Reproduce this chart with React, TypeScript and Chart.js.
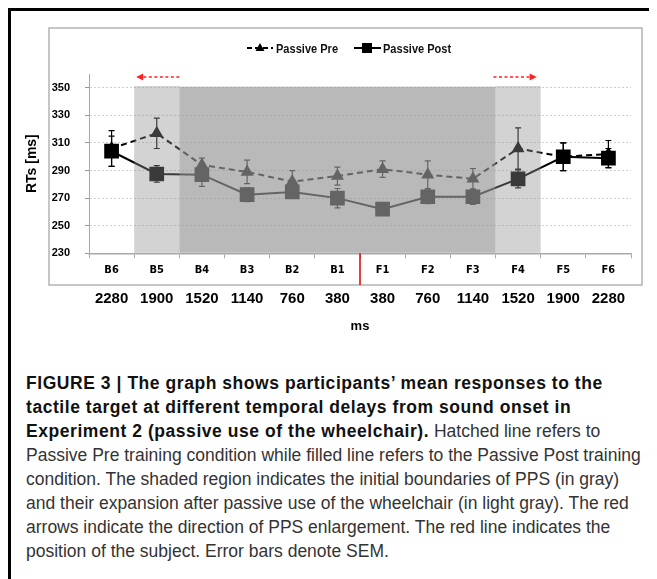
import React, { useEffect, useRef } from 'react';
import { Chart, registerables } from 'chart.js';

Chart.register(...registerables);

const categories = ['B6', 'B5', 'B4', 'B3', 'B2', 'B1', 'F1', 'F2', 'F3', 'F4', 'F5', 'F6'];
const delayLabels = ['2280', '1900', '1520', '1140', '760', '380', '380', '760', '1140', '1520', '1900', '2280'];
const yTickValues = [230, 250, 270, 290, 310, 330, 350];
const seriesNames = ['Passive Pre', 'Passive Post'];
const passivePre = [306, 317, 294, 289, 282, 286, 291, 287, 284, 306, 300, 302];
const passivePreSem = [13, 11, 5, 8.5, 8, 6.5, 6, 10, 7.5, 15, 10, 9.8];
const passivePost = [304, 287.5, 287, 272.5, 274.5, 270, 262, 271, 271, 284, 300, 299];
const passivePostSem = [11, 6, 8.5, 5, 4, 7, 3, 5, 5.5, 6.5, 10, 7];

const NARROW = '"DejaVu Sans Condensed", "Liberation Sans", sans-serif';
const SANS = '"Liberation Sans", Arial, sans-serif';

const CW = 646;
const CH = 335;
// grey frame box (canvas coords)
const BOX = { l: 38, t: 17, r: 631, b: 274 };

const semPlugin = {
  id: 'semBars',
  beforeDatasetsDraw(chart: any) {
    const ctx = chart.ctx;
    const ys = chart.scales.y;
    const sems = [passivePreSem, passivePostSem];
    ctx.save();
    ctx.strokeStyle = '#000';
    ctx.lineWidth = 1.2;
    chart.data.datasets.forEach((ds: any, i: number) => {
      const meta = chart.getDatasetMeta(i);
      meta.data.forEach((pt: any, j: number) => {
        const v = ds.data[j];
        const e = sems[i][j];
        const x = pt.x;
        const y1 = ys.getPixelForValue(v + e);
        const y2 = ys.getPixelForValue(v - e);
        ctx.beginPath();
        ctx.moveTo(x, y1);
        ctx.lineTo(x, y2);
        ctx.moveTo(x - 3, y1);
        ctx.lineTo(x + 3, y1);
        ctx.moveTo(x - 3, y2);
        ctx.lineTo(x + 3, y2);
        ctx.stroke();
      });
    });
    ctx.restore();
  },
};

const shadePlugin = {
  id: 'ppsShade',
  afterDatasetsDraw(chart: any) {
    const ctx = chart.ctx;
    const xs = chart.scales.x;
    const ys = chart.scales.y;
    const half = (xs.getPixelForValue(1) - xs.getPixelForValue(0)) / 2;
    const bottom = chart.chartArea.bottom - 0.5;
    const topL = ys.getPixelForValue(351.3);
    const topD = ys.getPixelForValue(350.8);
    ctx.save();
    // light gray expansion columns (B5, F4)
    ctx.fillStyle = 'rgba(145,145,145,0.4)';
    [1, 9].forEach((i) => {
      const c = xs.getPixelForValue(i);
      ctx.fillRect(c - half, topL, 2 * half, bottom - topL);
    });
    // dark gray initial PPS (B4..F3)
    ctx.fillStyle = 'rgba(150,150,150,0.667)';
    const l = xs.getPixelForValue(2) - half;
    const r = xs.getPixelForValue(8) + half;
    ctx.fillRect(l, topD, r - l, bottom - topD);
    ctx.restore();
  },
  afterDraw(chart: any) {
    const ctx = chart.ctx;
    const xs = chart.scales.x;
    const half = (xs.getPixelForValue(1) - xs.getPixelForValue(0)) / 2;
    ctx.save();
    // frame
    ctx.strokeStyle = '#b4b4b4';
    ctx.lineWidth = 1.5;
    ctx.strokeRect(BOX.l, BOX.t, BOX.r - BOX.l, BOX.b - BOX.t);
    // subject line
    const sx = (xs.getPixelForValue(5) + xs.getPixelForValue(6)) / 2;
    ctx.strokeStyle = '#e00000';
    ctx.lineWidth = 1.5;
    ctx.beginPath();
    ctx.moveTo(sx, chart.chartArea.bottom);
    ctx.lineTo(sx, BOX.b);
    ctx.stroke();
    // red arrows
    const ay = 66;
    const drawArrow = (from: number, to: number) => {
      const dir = Math.sign(to - from);
      ctx.strokeStyle = '#ff2020';
      ctx.fillStyle = '#ff2020';
      ctx.lineWidth = 1.6;
      ctx.setLineDash([3, 2.5]);
      ctx.beginPath();
      ctx.moveTo(from, ay);
      ctx.lineTo(to - dir * 6, ay);
      ctx.stroke();
      ctx.setLineDash([]);
      ctx.beginPath();
      ctx.moveTo(to, ay);
      ctx.lineTo(to - dir * 7, ay - 3.5);
      ctx.lineTo(to - dir * 7, ay + 3.5);
      ctx.closePath();
      ctx.fill();
    };
    drawArrow(xs.getPixelForValue(2) - half, xs.getPixelForValue(1) - half + 2);
    drawArrow(xs.getPixelForValue(9) - half - 2, xs.getPixelForValue(9) + half - 4);
    // legend
    const ly = 37;
    ctx.strokeStyle = '#000';
    ctx.lineWidth = 2;
    // pre
    ctx.setLineDash([5, 3]);
    ctx.beginPath();
    ctx.moveTo(236, ly);
    ctx.lineTo(262, ly);
    ctx.stroke();
    ctx.setLineDash([]);
    ctx.fillStyle = '#000';
    ctx.beginPath();
    ctx.moveTo(249, ly - 5);
    ctx.lineTo(253.5, ly + 3);
    ctx.lineTo(244.5, ly + 3);
    ctx.closePath();
    ctx.fill();
    // post
    ctx.beginPath();
    ctx.moveTo(343, ly);
    ctx.lineTo(370, ly);
    ctx.stroke();
    ctx.fillRect(351, ly - 5, 10, 10);
    // legend texts (narrowed)
    ctx.font = 'bold 13px ' + SANS;
    ctx.textBaseline = 'middle';
    ctx.textAlign = 'left';
    ctx.fillStyle = '#111';
    const sx2 = 0.85;
    ctx.save();
    ctx.translate(265, ly + 1);
    ctx.scale(sx2, 1);
    ctx.fillText(seriesNames[0], 0, 0);
    ctx.restore();
    ctx.save();
    ctx.translate(372, ly + 1);
    ctx.scale(sx2, 1);
    ctx.fillText(seriesNames[1], 0, 0);
    ctx.restore();
    ctx.restore();
  },
};

export default function App() {
  const ref = useRef<HTMLCanvasElement>(null);
  useEffect(() => {
    document.documentElement.style.overflow = 'hidden';
    document.body.style.overflow = 'hidden';
    const chart = new Chart(ref.current as HTMLCanvasElement, {
      type: 'line',
      data: {
        labels: categories,
        datasets: [
          {
            label: seriesNames[0],
            data: passivePre,
            borderColor: '#000',
            backgroundColor: '#000',
            borderWidth: 2,
            borderDash: [6, 4],
            pointStyle: 'triangle',
            pointRadius: 5.5,
            pointBackgroundColor: '#000',
            pointBorderColor: '#000',
            tension: 0,
          },
          {
            label: seriesNames[1],
            data: passivePost,
            borderColor: '#000',
            backgroundColor: '#000',
            borderWidth: 2,
            pointStyle: 'rect',
            pointRadius: 9,
            pointBackgroundColor: '#000',
            pointBorderColor: '#000',
            tension: 0,
          },
        ],
      },
      options: {
        responsive: false,
        animation: false,
        layout: { padding: { left: 0, top: 63, right: 26, bottom: 0 } },
        plugins: { legend: { display: false }, tooltip: { enabled: false } },
        scales: {
          y: {
            min: 230,
            max: 360,
            afterBuildTicks: (s: any) => {
              s.ticks = yTickValues.map((v) => ({ value: v }));
            },
            afterFit: (s: any) => {
              s.width = 78;
            },
            ticks: {
              padding: 15,
              color: '#000',
              font: { family: SANS, size: 11, weight: 'bold' },
            },
            grid: {
              color: '#cfcfcf',
              tickColor: '#999',
              tickLength: 4,
              lineWidth: 1,
            },
            border: { color: '#a8a8a8', width: 1, dash: [2, 2] },
            title: {
              display: true,
              text: 'RTs [ms]',
              color: '#000',
              font: { family: SANS, size: 14, weight: 'bold' },
              padding: { top: 12.6, bottom: 0 },
            },
          },
          x: {
            type: 'category',
            weight: 0,
            offset: true,
            afterFit: (s: any) => {
              s.height = 31.7;
            },
            ticks: {
              autoSkip: false,
              maxRotation: 0,
              padding: 5,
              color: '#000',
              font: { family: NARROW, size: 11, weight: 'bold' },
            },
            grid: {
              display: true,
              drawOnChartArea: false,
              drawTicks: true,
              tickLength: 5,
              tickColor: '#a8a8a8',
              offset: true,
            },
            border: { color: '#a8a8a8', width: 1.5 },
          },
          x2: {
            type: 'category',
            position: 'bottom',
            weight: 1,
            offset: true,
            labels: delayLabels,
            afterFit: (s: any) => {
              s.height = 61;
            },
            ticks: {
              autoSkip: false,
              maxRotation: 0,
              padding: 5,
              color: '#000',
              font: { family: SANS, size: 15, weight: 'bold' },
            },
            grid: { display: false, drawTicks: false, drawOnChartArea: false },
            border: { display: false },
            title: {
              display: true,
              text: 'ms',
              color: '#000',
              font: { family: SANS, size: 13, weight: 'bold' },
              padding: { top: 0, bottom: 12 },
            },
          },
        },
      } as any,
      plugins: [semPlugin, shadePlugin],
    });
    return () => chart.destroy();
  }, []);

  const bold = { fontWeight: 'bold' as const, color: '#111', letterSpacing: '0.55px' };
  const lines: React.ReactNode[] = [
    <span style={bold}>FIGURE 3 | The graph shows participants’ mean responses to the</span>,
    <span style={bold}>tactile target at different temporal delays from sound onset in</span>,
    <>
      <span style={bold}>Experiment 2 (passive use of the wheelchair).</span> Hatched line refers to
    </>,
    <>Passive Pre training condition while filled line refers to the Passive Post training</>,
    <>condition. The shaded region indicates the initial boundaries of PPS (in gray)</>,
    <>and their expansion after passive use of the wheelchair (in light gray). The red</>,
    <>arrows indicate the direction of PPS enlargement. The red line indicates the</>,
    <>position of the subject. Error bars denote SEM.</>,
  ];

  return (
    <div
      style={{
        position: 'relative',
        width: 646,
        height: 568,
        borderLeft: '3px solid #000',
        borderTop: '3px solid #000',
        background: '#fff',
      }}
    >
      <canvas ref={ref} width={CW} height={CH} style={{ position: 'absolute', left: 0, top: 0, width: CW, height: CH }} />
      <div
        style={{
          position: 'absolute',
          left: 15,
          top: 360,
          fontFamily: SANS,
          fontSize: 17.5,
          lineHeight: '24px',
          color: '#333',
          whiteSpace: 'nowrap',
        }}
      >
        {lines.map((l, i) => (
          <div key={i}>{l}</div>
        ))}
      </div>
    </div>
  );
}
